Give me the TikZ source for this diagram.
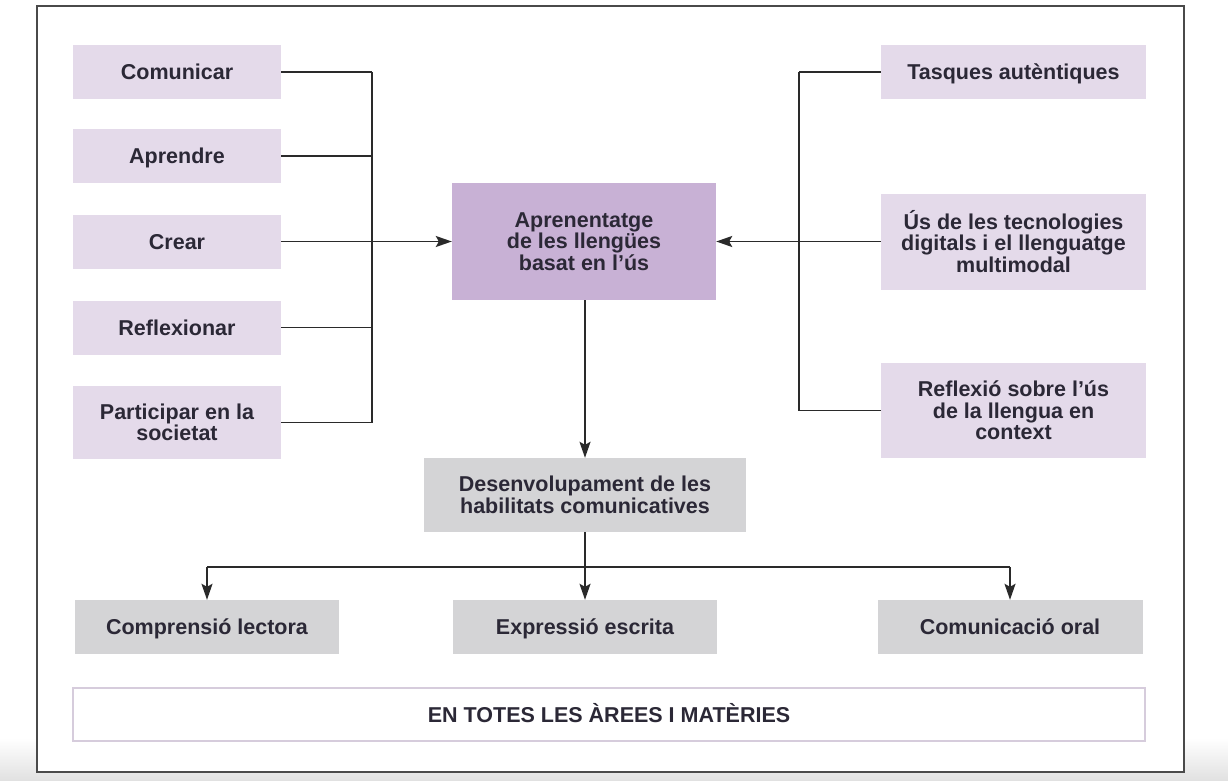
\documentclass[tikz,border=0pt]{standalone}
\usepackage{fontspec}
\setmainfont{Liberation Sans}
\usetikzlibrary{arrows.meta}
\definecolor{lilac}{HTML}{E4DAEA}
\definecolor{lilacdark}{HTML}{C8B1D5}
\definecolor{greybox}{HTML}{D4D4D6}
\definecolor{txt}{HTML}{2B2836}
\definecolor{wire}{HTML}{2A2A2A}
\definecolor{framec}{HTML}{4A4A4A}
\definecolor{enborder}{HTML}{D6CCDC}
\tikzset{
  box/.style={inner sep=0pt, align=center, text=txt,
     font=\bfseries\fontsize{21.5}{21.5}\selectfont},
  one/.style={text height=18pt, text depth=2.6pt},
  lbox/.style={box, one, fill=lilac, minimum width=208pt, minimum height=54pt},
  rbox/.style={box, fill=lilac, minimum width=265pt},
  cbox/.style={box, fill=lilacdark, minimum width=264pt, minimum height=117pt},
  gbox/.style={box, fill=greybox, minimum height=54pt},
  wireline/.style={draw=wire, line width=1.8pt},
  arr/.style={wireline, -{Stealth[length=16pt,width=11pt,inset=3pt]}},
}
\begin{document}
\begin{tikzpicture}[x=1pt,y=-1pt]
\useasboundingbox (0,0) rectangle (1228,781);
\fill[white] (0,0) rectangle (1228,781);
\shade[top color=white, bottom color=black!12] (0,738) rectangle (1228,781);
\draw[framec, line width=2pt, fill=white] (37,6) rectangle (1184,772);

% left boxes
\node[lbox] (c1) at (177,72) {Comunicar};
\node[lbox] (c2) at (177,156) {Aprendre};
\node[lbox] (c3) at (177,241.5) {Crear};
\node[lbox] (c4) at (177,327.5) {Reflexionar};
\node[box, fill=lilac, minimum width=208pt, minimum height=73pt] (c5) at (177,422.5) {Participar en la\\societat};

% centre
\node[cbox] (ctr) at (584,241.5) {Aprenentatge\\de les llengües\\basat en l’ús};

% right boxes
\node[rbox, one, minimum height=54pt] (r1) at (1013.5,72) {Tasques autèntiques};
\node[rbox, minimum height=96pt] (r2) at (1013.5,241.5) {Ús de les tecnologies\\digitals i el llenguatge\\multimodal};
\node[rbox, minimum height=95pt] (r3) at (1013.5,410.5) {Reflexió sobre l’ús\\de la llengua en\\context};

% development
\node[gbox, minimum width=322pt, minimum height=74pt] (des) at (585,495) {Desenvolupament de les\\habilitats comunicatives};

% bottom boxes
\node[gbox, one, minimum width=264pt] (b1) at (207,627) {Comprensió lectora};
\node[gbox, one, minimum width=264pt] (b2) at (585,627) {Expressió escrita};
\node[gbox, one, minimum width=265pt] (b3) at (1010,627) {Comunicació oral};

\node[box, one, draw=enborder, line width=1.2pt, fill=white, minimum width=1072pt, minimum height=53pt] (en) at (609,714.5) {EN TOTES LES ÀREES I MATÈRIES};

% buses
\coordinate (lbus) at (372,0);
\coordinate (rbus) at (799,0);
\coordinate (hy) at (0,567);

\foreach \n in {c1,c2,c4,c5}
  \draw[wireline] (\n.east) -- (\n.east -| lbus);
\draw[wireline] (c1.east -| lbus) -- (c5.east -| lbus);
\draw[arr] (c3.east) -- (ctr.west);

\foreach \n in {r1,r3}
  \draw[wireline] (\n.west) -- (\n.west -| rbus);
\draw[wireline] (r1.west -| rbus) -- (r3.west -| rbus);
\draw[arr] (r2.west) -- (ctr.east);

\draw[arr] (ctr.south -| des.north) -- (des.north);
\draw[wireline] (des.south) -- (des.south |- hy);
\draw[wireline] (b1.north |- hy) -- (b3.north |- hy);
\draw[arr] (b1.north |- hy) -- (b1.north);
\draw[arr] (des.south |- hy) -- (b2.north);
\draw[arr] (b3.north |- hy) -- (b3.north);
\end{tikzpicture}
\end{document}
